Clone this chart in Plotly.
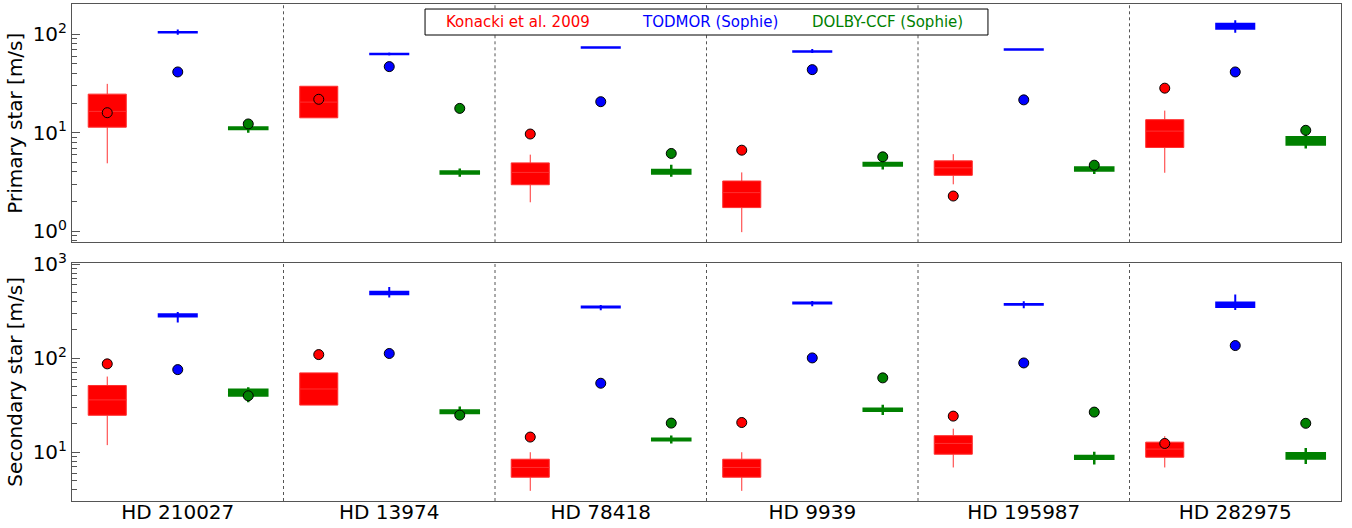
import plotly.graph_objects as go
from plotly.subplots import make_subplots

# Binary systems
stars = ["HD 210027", "HD 13974", "HD 78418", "HD 9939", "HD 195987", "HD 282975"]

# ---- Primary star RV precision [m/s] ----
konacki_p_q1 = [11.4, 14.2, 2.97, 1.74, 3.70, 7.09]
konacki_p_med = [16.5, 20.5, 3.96, 2.47, 4.41, 10.4]
konacki_p_q3 = [24.7, 29.7, 4.95, 3.24, 5.19, 13.6]
konacki_p_lo = [4.9, 15.0, 1.97, 0.98, 3.0, 3.93]
konacki_p_hi = [31.4, 29.0, 6.0, 3.96, 6.07, 16.8]
konacki_p_pt = [16.0, 21.9, 9.72, 6.66, 2.28, 28.4]

todmor_p_q1 = [104.5, 62.8, 73.0, 66.6, 69.6, 114.0]
todmor_p_med = [105.0, 63.2, 73.5, 67.0, 70.0, 121.0]
todmor_p_q3 = [105.5, 63.6, 74.0, 67.4, 70.4, 128.0]
todmor_p_lo = [99.0, 61.0, 71.5, 64.5, 68.5, 104.0]
todmor_p_hi = [112.0, 65.5, 75.0, 71.0, 71.5, 139.0]
todmor_p_pt = [41.5, 47.0, 20.7, 43.8, 21.6, 41.5]

dolby_p_q1 = [10.9, 3.86, 3.86, 4.65, 4.15, 7.60]
dolby_p_med = [11.1, 3.95, 4.0, 4.8, 4.3, 8.3]
dolby_p_q3 = [11.3, 4.05, 4.20, 4.95, 4.45, 9.00]
dolby_p_lo = [10.0, 3.58, 3.58, 4.25, 3.81, 6.92]
dolby_p_hi = [11.6, 4.35, 4.73, 5.28, 5.15, 9.82]
dolby_p_pt = [12.3, 17.7, 6.17, 5.70, 4.69, 10.6]

# ---- Secondary star RV precision [m/s] ----
konacki_s_q1 = [24.7, 31.7, 5.43, 5.43, 9.53, 8.85]
konacki_s_med = [36.0, 47.0, 6.89, 6.89, 12.4, 10.8]
konacki_s_q3 = [51.2, 69.7, 8.43, 8.43, 15.0, 12.8]
konacki_s_lo = [11.9, 33.0, 3.89, 3.89, 6.89, 6.89]
konacki_s_hi = [63.7, 68.0, 10.0, 10.0, 17.8, 14.8]
konacki_s_pt = [86.9, 109.0, 14.5, 20.7, 24.2, 12.4]

todmor_s_q1 = [277, 478, 346, 381, 368, 350]
todmor_s_med = [285, 492, 350, 385, 372, 370]
todmor_s_q3 = [293, 506, 354, 389, 376, 390]
todmor_s_lo = [239, 440, 322, 355, 338, 324]
todmor_s_hi = [310, 571, 367, 404, 401, 473]
todmor_s_pt = [75.5, 112.0, 54.1, 100.5, 88.9, 136.0]

dolby_s_q1 = [40.0, 26.2, 13.4, 27.6, 8.55, 8.60]
dolby_s_med = [43.0, 27.0, 13.7, 28.2, 8.8, 9.2]
dolby_s_q3 = [46.0, 27.7, 13.9, 28.9, 9.10, 9.75]
dolby_s_lo = [34.0, 23.7, 12.4, 24.8, 7.41, 7.52]
dolby_s_hi = [49.0, 30.7, 15.1, 32.0, 10.1, 11.1]
dolby_s_pt = [39.8, 24.8, 20.4, 61.7, 26.7, 20.3]

FONT = "DejaVu Sans"
RED, BLUE, GREEN = "#ff0000", "#0000ff", "#008000"
FRAME = "#555555"

n = len(stars)
pos = {k: [3 * i + k for i in range(n)] for k in range(3)}
centers = pos[1]

fig = make_subplots(rows=2, cols=1, shared_xaxes=True, vertical_spacing=0.04)


def add_method(row, k, color, edge, q1, med, q3, lo, hi, pts, lw):
    fig.add_trace(go.Box(
        x=pos[k], q1=q1, median=med, q3=q3, lowerfence=lo, upperfence=hi,
        width=0.54, whiskerwidth=0, boxpoints=False,
        fillcolor=color, line=dict(color=edge, width=lw),
        showlegend=False, hoverinfo="skip"), row=row, col=1)
    return (pos[k], pts, color)


points = []
points.append((1, add_method(1, 0, RED, "#ff3030", konacki_p_q1, konacki_p_med, konacki_p_q3,
                             konacki_p_lo, konacki_p_hi, konacki_p_pt, 1)))
points.append((1, add_method(1, 1, BLUE, BLUE, todmor_p_q1, todmor_p_med, todmor_p_q3,
                             todmor_p_lo, todmor_p_hi, todmor_p_pt, 2)))
points.append((1, add_method(1, 2, GREEN, GREEN, dolby_p_q1, dolby_p_med, dolby_p_q3,
                             dolby_p_lo, dolby_p_hi, dolby_p_pt, 2.5)))
points.append((2, add_method(2, 0, RED, "#ff3030", konacki_s_q1, konacki_s_med, konacki_s_q3,
                             konacki_s_lo, konacki_s_hi, konacki_s_pt, 1)))
points.append((2, add_method(2, 1, BLUE, BLUE, todmor_s_q1, todmor_s_med, todmor_s_q3,
                             todmor_s_lo, todmor_s_hi, todmor_s_pt, 2)))
points.append((2, add_method(2, 2, GREEN, GREEN, dolby_s_q1, dolby_s_med, dolby_s_q3,
                             dolby_s_lo, dolby_s_hi, dolby_s_pt, 2.5)))

# single-value markers drawn above the boxes
for row, (xs, ys, color) in points:
    fig.add_trace(go.Scatter(
        x=xs, y=ys, mode="markers",
        marker=dict(size=10, color=color, line=dict(color="black", width=1)),
        showlegend=False, hoverinfo="skip"), row=row, col=1)

# dotted separators between stars
for yref in ("y domain", "y2 domain"):
    xref = "x" if yref == "y domain" else "x2"
    for i in range(1, n):
        fig.add_shape(type="line", xref=xref, yref=yref,
                      x0=3 * i - 0.5, x1=3 * i - 0.5, y0=0, y1=1,
                      line=dict(color=FRAME, width=1, dash="dot"))

# legend box with coloured labels
fig.add_shape(type="rect", xref="paper", yref="paper",
              x0=0.2782, x1=0.7218, y0=0.9376, y1=0.9899,
              line=dict(color="black", width=1), fillcolor="white")
for label, color, xc in [("Konacki et al. 2009", RED, 0.3514),
                         ("TODMOR (Sophie)", BLUE, 0.5024),
                         ("DOLBY-CCF (Sophie)", GREEN, 0.6430)]:
    fig.add_annotation(xref="paper", yref="paper", x=xc, y=0.9638,
                       text=label, showarrow=False,
                       font=dict(family=FONT, size=15, color=color),
                       xanchor="center", yanchor="middle")

minor_p = [m * 10 ** e for e in (-1, 0, 1, 2) for m in range(2, 10)]
minor_s = [m * 10 ** e for e in (0, 1, 2) for m in range(2, 10)]

yaxis_common = dict(
    type="log", showline=True, linecolor=FRAME, linewidth=1, mirror=True,
    showgrid=False, zeroline=False, ticks="inside", ticklen=8, tickwidth=1,
    tickcolor=FRAME, tickfont=dict(family=FONT, size=20, color="black"),
    title_font=dict(family=FONT, size=20, color="black"), title_standoff=4,
    automargin=False,
)
fig.update_yaxes(
    **yaxis_common, range=[-0.112, 2.308],
    tickvals=[1, 10, 100], ticktext=["10<sup>0</sup>", "10<sup>1</sup>", "10<sup>2</sup>"],
    minor=dict(tickvals=minor_p, ticks="inside", ticklen=5, tickcolor=FRAME),
    title_text="Primary star [m/s]", row=1, col=1)
fig.update_yaxes(
    **yaxis_common, range=[0.482, 3.014],
    tickvals=[10, 100, 1000], ticktext=["10<sup>1</sup>", "10<sup>2</sup>", "10<sup>3</sup>"],
    minor=dict(tickvals=minor_s, ticks="inside", ticklen=5, tickcolor=FRAME),
    title_text="Secondary star [m/s]", row=2, col=1)

fig.update_xaxes(range=[-0.5, 3 * n - 0.5], showline=True, linecolor=FRAME,
                 linewidth=1, mirror=True, showgrid=False, zeroline=False, ticks="",
                 automargin=False)
fig.update_xaxes(showticklabels=False, row=1, col=1)
fig.update_xaxes(tickvals=centers, ticktext=stars, ticklabelstandoff=-7,
                 tickfont=dict(family=FONT, size=20, color="black"), row=2, col=1)

fig.update_layout(
    width=1352, height=528,
    margin=dict(l=72, r=11, t=4, b=27),
    paper_bgcolor="white", plot_bgcolor="white",
    boxmode="overlay", showlegend=False,
    font=dict(family=FONT),
)
fig.layout.yaxis.domain = [0.5205, 1.0]
fig.layout.yaxis2.domain = [0.0, 0.4795]

fig.write_html("out.html")
